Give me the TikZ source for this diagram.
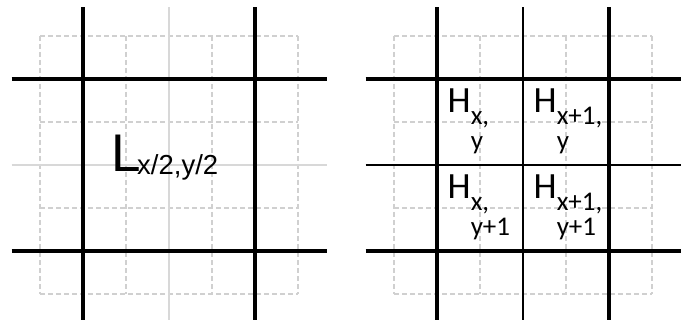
\documentclass[tikz,border=0pt]{standalone}
\usepackage{fontspec}
\setmainfont{Liberation Sans}
\newfontfamily\cellfont{Carlito}
\definecolor{softgray}{RGB}{216,216,216}
\definecolor{dashgray}{RGB}{208,208,208}
\newcommand\hcell[2]{{\fontsize{37}{37}\selectfont H}\raisebox{-12pt}{\fontsize{27}{25}\selectfont\begin{tabular}[t]{@{}l@{}}#1\\#2\end{tabular}}}
\begin{document}
\begin{tikzpicture}[x=1pt,y=-1pt,
  thickline/.style={line width=4pt, black},
  midline/.style={line width=2pt, black},
  softline/.style={line width=2pt, softgray},
  dashline/.style={line width=1.8pt, dashgray, dash pattern=on 5pt off 3pt},
  lab/.style={inner sep=0pt, anchor=base west}]
\useasboundingbox (0,0) rectangle (698,320);
% ---------- left panel ----------
\begin{scope}
  \foreach \v in {40,126,212,298} \draw[dashline] (\v,36) -- (\v,294);
  \foreach \h in {36,122,208,294} \draw[dashline] (40,\h) -- (298,\h);
  \draw[softline] (169,7.5) -- (169,322.5);
  \draw[softline] (11.5,165) -- (326.5,165);
  \foreach \v in {83,255} \draw[thickline] (\v,7.5) -- (\v,322.5);
  \foreach \h in {79,251} \draw[thickline] (11.5,\h) -- (326.5,\h);
\end{scope}
\node[lab] (L) at (111,172) {{\fontsize{53}{53}\selectfont L}\kern-3.5pt\raisebox{-2.5pt}{\fontsize{27.5}{30}\selectfont x/2,y/2}};
% ---------- right panel ----------
\begin{scope}[xshift=354pt]
  \foreach \v in {40,126,212,298} \draw[dashline] (\v,36) -- (\v,294);
  \foreach \h in {36,122,208,294} \draw[dashline] (40,\h) -- (298,\h);
  \draw[midline] (169,7.5) -- (169,322.5);
  \draw[midline] (11.5,165) -- (326.5,165);
  \foreach \v in {83,255} \draw[thickline] (\v,7.5) -- (\v,322.5);
  \foreach \h in {79,251} \draw[thickline] (11.5,\h) -- (326.5,\h);
\end{scope}
\node[lab, font=\cellfont] (h11) at (447.5,113) {\hcell{x,}{y}};
\node[lab, font=\cellfont] (h21) at (533.5,113) {\hcell{x+1,}{y}};
\node[lab, font=\cellfont] (h12) at (447.5,199) {\hcell{x,}{y+1}};
\node[lab, font=\cellfont] (h22) at (533.5,199) {\hcell{x+1,}{y+1}};
\end{tikzpicture}
\end{document}
